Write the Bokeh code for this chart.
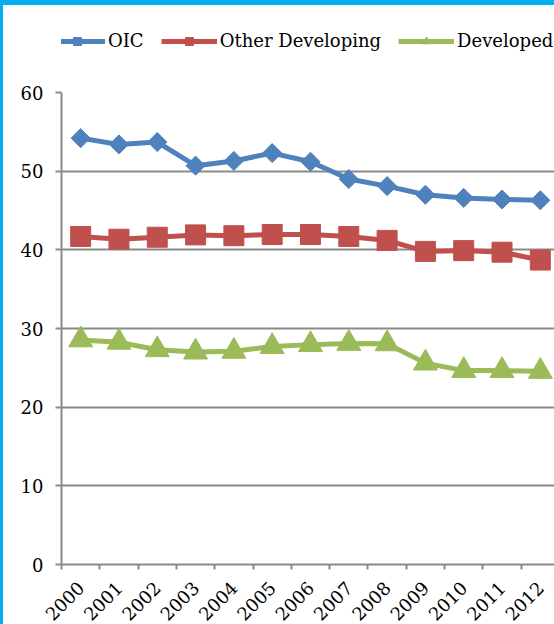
import math
from bokeh.plotting import figure
from bokeh.layouts import column
from bokeh.models import Range1d, FixedTicker, Legend, LegendItem
from bokeh.embed import file_html
from bokeh.resources import INLINE

years = ["2000", "2001", "2002", "2003", "2004", "2005", "2006",
         "2007", "2008", "2009", "2010", "2011", "2012"]
oic = [54.2, 53.4, 53.7, 50.7, 51.3, 52.3, 51.2, 49.0, 48.1, 47.0, 46.6, 46.4, 46.3]
other_dev = [41.7, 41.35, 41.6, 41.9, 41.8, 41.95, 41.95, 41.7, 41.2, 39.8, 39.9, 39.7, 38.7]
developed = [28.55, 28.25, 27.3, 27.0, 27.1, 27.7, 27.95, 28.1, 28.05, 25.6, 24.65, 24.65, 24.55]
y_ticks = [0, 10, 20, 30, 40, 50, 60]

series = [
    ("OIC", oic, "#4F81BD", "square", 13.5, math.pi / 4),
    ("Other Developing", other_dev, "#C0504D", "square", 20, 0),
    ("Developed", developed, "#9BBB59", "triangle", 24, 0),
]

FONT = "DejaVu Serif"
GRAY = "#8A8A8A"
n = len(years)
xc = [i + 0.5 for i in range(n)]

# ---- legend strip (top) ----
top = figure(frame_width=493, height=80, min_border_left=61, min_border_right=0,
             min_border_top=0, min_border_bottom=0,
             x_range=Range1d(0, 12.87), y_range=Range1d(0, 1),
             x_axis_location=None, y_axis_location=None,
             output_backend="svg", toolbar_location=None)
top.grid.grid_line_color = None
top.outline_line_color = None
top.background_fill_color = None
top.border_fill_color = None

items = []
for name, vals, color, marker, size, ang in series:
    # same data, but out of this strip's visible y range: only the legend shows
    l1 = top.line(xc, vals, line_color=color, line_width=5)
    l2 = top.scatter(xc, vals, marker=marker, size=size, angle=ang,
                     fill_color=color, line_color=color)
    items.append(LegendItem(label=name, renderers=[l1, l2]))

legend = Legend(items=items, orientation="horizontal", location=(-12, 29),
                glyph_width=56, glyph_height=20, label_standoff=3, spacing=17,
                padding=0, margin=0, border_line_color=None, background_fill_alpha=0,
                label_text_font=FONT, label_text_font_size="18px",
                label_text_color="black", label_height=20)
top.add_layout(legend)

# ---- main chart ----
p = figure(frame_width=493, frame_height=472,
           min_border_left=61, min_border_top=12, min_border_bottom=60, min_border_right=0,
           x_range=Range1d(0, 12.87), y_range=Range1d(0, 60),
           output_backend="svg", toolbar_location=None)
p.outline_line_color = None
p.background_fill_color = "white"
p.border_fill_color = None

for name, vals, color, marker, size, ang in series:
    p.line(xc, vals, line_color=color, line_width=5)
    p.scatter(xc, vals, marker=marker, size=size, angle=ang,
              fill_color=color, line_color=color)

xa = p.xaxis[0]
xa.ticker = FixedTicker(ticks=xc, minor_ticks=list(range(n + 1)))
xa.major_label_overrides = {x: y for x, y in zip(xc, years)}
xa.major_label_orientation = math.pi / 4
xa.major_tick_out = 0
xa.major_tick_in = 0
xa.minor_tick_out = 5
xa.minor_tick_in = 0
xa.minor_tick_line_color = GRAY
xa.minor_tick_line_width = 2
xa.axis_line_color = GRAY
xa.axis_line_width = 2
xa.major_label_text_font = FONT
xa.major_label_text_font_size = "18px"
xa.major_label_text_color = "black"
xa.major_label_standoff = 15

ya = p.yaxis[0]
ya.ticker = FixedTicker(ticks=y_ticks, minor_ticks=[])
ya.major_tick_out = 6
ya.major_tick_in = 0
ya.major_tick_line_color = GRAY
ya.major_tick_line_width = 2
ya.axis_line_color = GRAY
ya.axis_line_width = 2
ya.major_label_text_font = FONT
ya.major_label_text_font_size = "18px"
ya.major_label_text_color = "black"
ya.major_label_standoff = 12

p.xgrid.grid_line_color = None
p.ygrid.grid_line_color = GRAY
p.ygrid.grid_line_width = 2

layout = column(top, p, spacing=0,
                styles={"box-shadow": "inset 3px 5px 0 0 #00B0F0"})

open("out.html", "w").write(file_html(layout, INLINE))
